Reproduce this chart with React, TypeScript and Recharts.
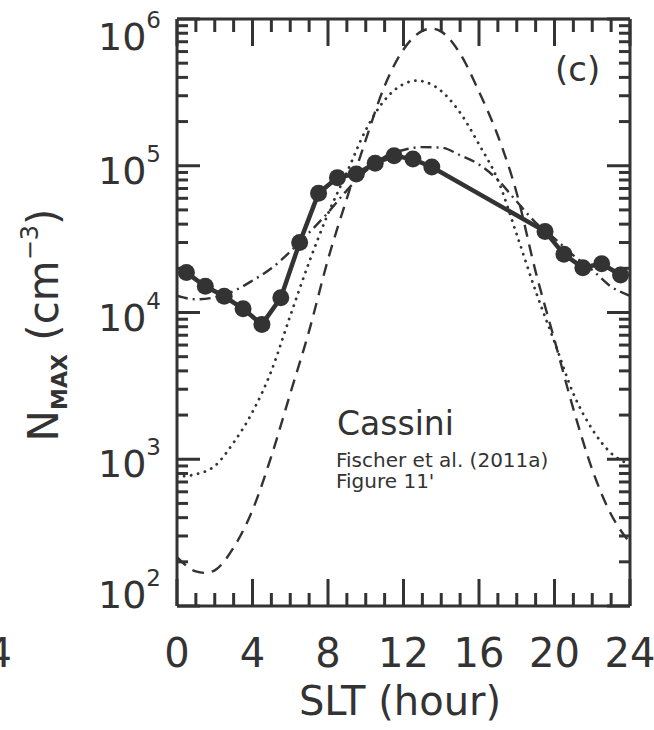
import React from 'react'
import { LineChart, Line, XAxis, YAxis } from 'recharts'

// Cassini observations (filled circles)
const obsHour = [0.5, 1.5, 2.5, 3.5, 4.5, 5.5, 6.5, 7.5, 8.5, 9.5, 10.5, 11.5, 12.5, 13.5, 19.5, 20.5, 21.5, 22.5, 23.5]
const obsNmax = [18700, 15100, 12900, 10600, 8300, 12600, 30000, 65000, 83000, 88000, 104000, 117000, 111000, 98000, 35700, 24900, 20200, 21500, 18000]

// model curves
const dashHour = [0, 1, 1.5, 2, 3, 4, 5, 6, 7, 8, 9, 10, 11, 12, 13, 13.5, 14, 15, 16, 17, 18, 19, 20, 21, 22, 23, 24]
const dashNmax = [215, 172, 168, 175, 250, 450, 1050, 2800, 7500, 23000, 60000, 150000, 350000, 620000, 830000, 860000, 820000, 580000, 320000, 160000, 65000, 19000, 6500, 2200, 850, 420, 270]

const dotHour = [0, 1, 2, 3, 4, 5, 6, 7, 8, 9, 10, 11, 12, 12.7, 13.7, 15, 16, 17, 18, 19, 20, 21, 22, 23, 24]
const dotNmax = [760, 790, 900, 1300, 2100, 4000, 9500, 22000, 47000, 90000, 175000, 280000, 360000, 380000, 345000, 230000, 140000, 80000, 34000, 14000, 6300, 2800, 1600, 1100, 920]

const dashDotHour = [0, 1, 2, 3, 4, 5, 6, 7, 8, 9, 10, 11, 12, 13, 14, 15, 16, 17, 18, 19, 20, 21, 22, 23, 24]
const dashDotNmax = [13000, 12300, 12700, 14000, 16500, 20000, 26000, 35000, 48000, 68000, 92000, 115000, 128000, 134000, 133000, 118000, 102000, 80000, 57000, 41000, 32000, 24500, 19500, 15000, 13000]

const hourTicks = [0, 1, 2, 3, 4, 5, 6, 7, 8, 9, 10, 11, 12, 13, 14, 15, 16, 17, 18, 19, 20, 21, 22, 23, 24]
const nmaxTicks = [
  100, 200, 300, 400, 500, 600, 700, 800, 900,
  1000, 2000, 3000, 4000, 5000, 6000, 7000, 8000, 9000,
  10000, 20000, 30000, 40000, 50000, 60000, 70000, 80000, 90000,
  100000, 200000, 300000, 400000, 500000, 600000, 700000, 800000, 900000,
  1000000,
]

const INK = '#333'
const FONT = 'DejaVu Sans'
const TOP = 19
const BOTTOM = 606
const LEFT = 177
const RIGHT = 630

const toPts = (h: number[], n: number[]) => h.map((x, i) => ({ h: x, n: n[i] }))

const XTick = (props: any) => {
  const { x, payload, side } = props
  const v = payload.value
  const major = v % 4 === 0
  const len = major ? 27 : 13
  if (side === 'top') {
    return <line x1={x} x2={x} y1={TOP} y2={TOP + len} stroke={INK} strokeWidth={3} />
  }
  return (
    <g>
      <line x1={x} x2={x} y1={BOTTOM} y2={BOTTOM - len} stroke={INK} strokeWidth={3} />
      {major && (
        <text x={x} y={667} textAnchor="middle" fontSize={40} fontFamily={FONT} fill={INK}>
          {v}
        </text>
      )}
    </g>
  )
}

const YTick = (props: any) => {
  const { y, payload, side } = props
  const v = payload.value
  const exp = Math.log10(v)
  const major = Math.abs(exp - Math.round(exp)) < 1e-6
  const len = major ? 23 : 11
  if (side === 'right') {
    return <line x1={RIGHT} x2={RIGHT - len} y1={y} y2={y} stroke={INK} strokeWidth={3} />
  }
  const shift = v === 1000000 ? 31 : v === 100 ? 2 : 18
  return (
    <g>
      <line x1={LEFT} x2={LEFT + len} y1={y} y2={y} stroke={INK} strokeWidth={3} />
      {major && (
        <text x={98} y={y + shift} fontSize={38} fontFamily={FONT} fill={INK}>
          10
          <tspan dy={-22} fontSize={23}>{Math.round(exp)}</tspan>
        </text>
      )}
    </g>
  )
}

export default function App() {
  const axisLine = { stroke: INK, strokeWidth: 3 }
  return (
    <div style={{ position: 'absolute', left: 0, top: 0, width: 654, height: 730, background: '#fff' }}>
      <LineChart width={654} height={730} margin={{ top: TOP - 10, right: 654 - RIGHT - 10, bottom: 730 - BOTTOM - 60, left: LEFT - 60 }}>
        <XAxis xAxisId="bottom" type="number" dataKey="h" domain={[0, 24]} ticks={hourTicks} interval={0}
          height={60} tickLine={false} axisLine={axisLine} allowDataOverflow
          tick={(p: any) => <XTick {...p} side="bottom" />} />
        <XAxis xAxisId="top" orientation="top" type="number" dataKey="h" domain={[0, 24]} ticks={hourTicks} interval={0}
          height={10} tickLine={false} axisLine={axisLine} allowDataOverflow
          tick={(p: any) => <XTick {...p} side="top" />} />
        <YAxis yAxisId="left" type="number" scale="log" dataKey="n" domain={[100, 1000000]} ticks={nmaxTicks} interval={0}
          width={60} tickLine={false} axisLine={axisLine} allowDataOverflow
          tick={(p: any) => <YTick {...p} side="left" />} />
        <YAxis yAxisId="right" orientation="right" type="number" scale="log" dataKey="n" domain={[100, 1000000]} ticks={nmaxTicks} interval={0}
          width={10} tickLine={false} axisLine={axisLine} allowDataOverflow
          tick={(p: any) => <YTick {...p} side="right" />} />

        <Line xAxisId="bottom" yAxisId="left" data={toPts(dashHour, dashNmax)} dataKey="n" type="monotone"
          stroke={INK} strokeWidth={2.4} strokeDasharray="12 8" dot={false} isAnimationActive={false} />
        <Line xAxisId="bottom" yAxisId="left" data={toPts(dotHour, dotNmax)} dataKey="n" type="monotone"
          stroke={INK} strokeWidth={2.8} strokeDasharray="0.1 7" strokeLinecap="round" dot={false} isAnimationActive={false} />
        <Line xAxisId="bottom" yAxisId="left" data={toPts(dashDotHour, dashDotNmax)} dataKey="n" type="monotone"
          stroke={INK} strokeWidth={2.4} strokeDasharray="11 5 2 5" dot={false} isAnimationActive={false} />
        <Line xAxisId="bottom" yAxisId="left" data={toPts(obsHour, obsNmax)} dataKey="n" type="linear"
          stroke={INK} strokeWidth={4.5} dot={{ r: 8.5, fill: INK, stroke: INK, strokeWidth: 0 }} isAnimationActive={false} />
      </LineChart>

      <svg width={654} height={730} style={{ position: 'absolute', left: 0, top: 0, pointerEvents: 'none' }}>
        <g fontFamily={FONT} fill={INK}>
          <text x={12} y={667} textAnchor="end" fontSize={40}>24</text>
          <text x={400} y={715} textAnchor="middle" fontSize={40}>SLT (hour)</text>
          <text transform="translate(58,325) rotate(-90)" textAnchor="middle" fontSize={42}>
            N
            <tspan dy={9} fontSize={22} fontWeight="bold">MAX</tspan>
            <tspan dy={-9}>{'  (cm'}</tspan>
            <tspan dy={-20} fontSize={24}>−3</tspan>
            <tspan dy={20}>)</tspan>
          </text>
          <text x={555} y={81} fontSize={34}>(c)</text>
          <text x={337} y={435} fontSize={33}>Cassini</text>
          <text x={336} y={467} fontSize={20}>Fischer et al. (2011a)</text>
          <text x={336} y={488} fontSize={20}>Figure 11'</text>
        </g>
      </svg>
    </div>
  )
}
